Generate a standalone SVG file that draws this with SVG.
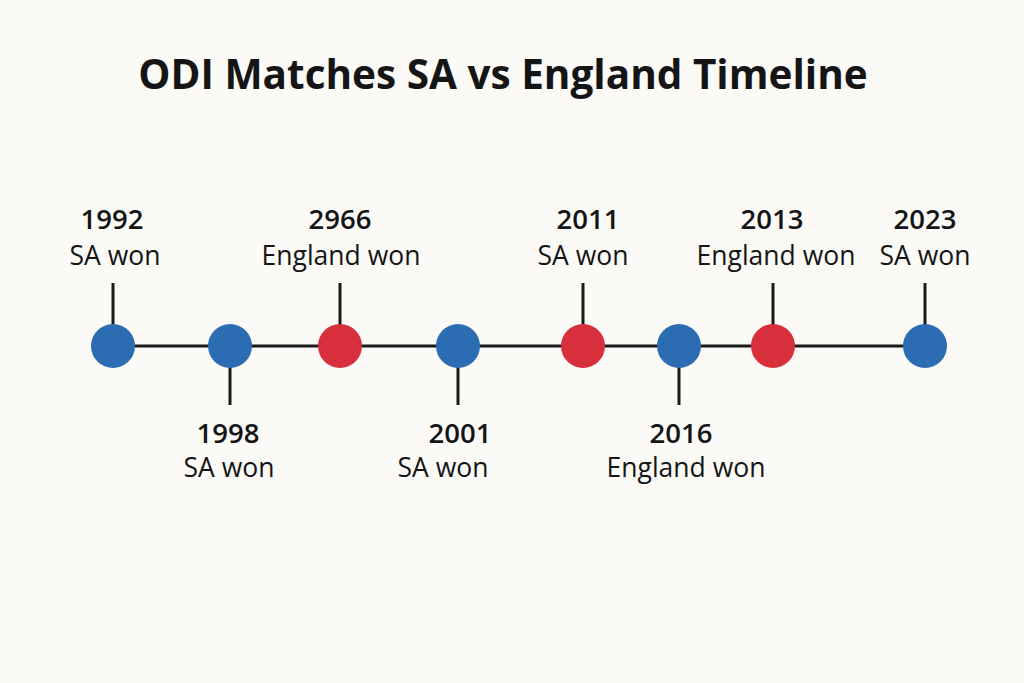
<svg xmlns="http://www.w3.org/2000/svg" width="1024" height="683" viewBox="0 0 1024 683">
<style>
.title{font-family:"Open Sans","Liberation Sans",sans-serif;font-weight:700;font-size:40.5px;fill:#151515;text-anchor:middle}
.yr{font-family:"Open Sans","Liberation Sans",sans-serif;font-weight:600;font-size:27.5px;fill:#151515;text-anchor:middle}
.res{font-family:"Open Sans","Liberation Sans",sans-serif;font-weight:500;font-size:26.5px;fill:#151515;text-anchor:middle}
.tick{stroke:#1a1a1a;stroke-width:3}
.sa{fill:#2b6cb3}
.en{fill:#d72f3c}
</style>
<rect width="1024" height="683" fill="#fbfaf7"/>
<text class="title" x="503" y="89">ODI Matches SA vs England Timeline</text>
<g id="connectors">
<line class="tick" x1="113" y1="346" x2="925" y2="346"/>
<line class="tick" x1="113" y1="283" x2="113" y2="346"/>
<line class="tick" x1="230" y1="346" x2="230" y2="405"/>
<line class="tick" x1="340" y1="283" x2="340" y2="346"/>
<line class="tick" x1="458" y1="346" x2="458" y2="405"/>
<line class="tick" x1="583" y1="283" x2="583" y2="346"/>
<line class="tick" x1="679" y1="346" x2="679" y2="405"/>
<line class="tick" x1="773" y1="283" x2="773" y2="346"/>
<line class="tick" x1="925" y1="283" x2="925" y2="346"/>
</g>
<g id="n1992"><circle class="sa" cx="113" cy="346" r="22"/><text class="yr" x="112" y="229">1992</text><text class="res" x="115" y="265">SA won</text></g>
<g id="n1998"><circle class="sa" cx="230" cy="346" r="22"/><text class="yr" x="228" y="443">1998</text><text class="res" x="229" y="477">SA won</text></g>
<g id="n2966"><circle class="en" cx="340" cy="346" r="22"/><text class="yr" x="340" y="229">2966</text><text class="res" x="341" y="265">England won</text></g>
<g id="n2001"><circle class="sa" cx="458" cy="346" r="22"/><text class="yr" x="460" y="443">2001</text><text class="res" x="443" y="477">SA won</text></g>
<g id="n2011"><circle class="en" cx="583" cy="346" r="22"/><text class="yr" x="588" y="229">2011</text><text class="res" x="583" y="265">SA won</text></g>
<g id="n2016"><circle class="sa" cx="679" cy="346" r="22"/><text class="yr" x="681" y="443">2016</text><text class="res" x="686" y="477">England won</text></g>
<g id="n2013"><circle class="en" cx="773" cy="346" r="22"/><text class="yr" x="772" y="229">2013</text><text class="res" x="776" y="265">England won</text></g>
<g id="n2023"><circle class="sa" cx="925" cy="346" r="22"/><text class="yr" x="925" y="229">2023</text><text class="res" x="925" y="265">SA won</text></g>
</svg>
